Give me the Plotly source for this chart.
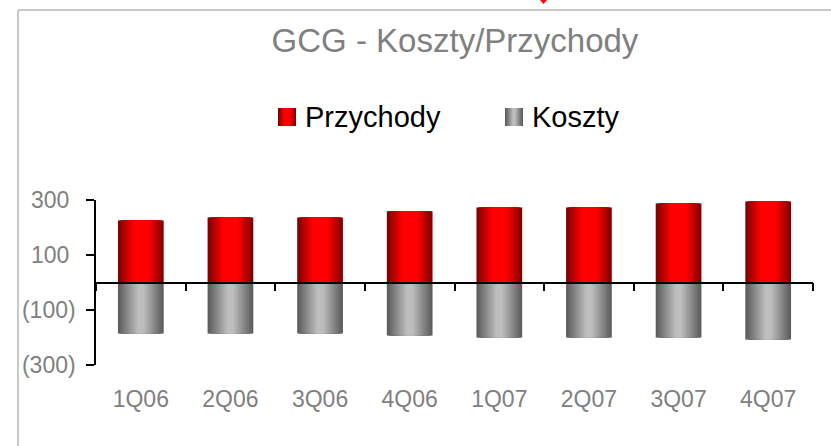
import plotly.graph_objects as go

# ---- data ----
quarters = ["1Q06", "2Q06", "3Q06", "4Q06", "1Q07", "2Q07", "3Q07", "4Q07"]
przychody = [225, 236, 236, 259, 273, 273, 287, 295]
koszty = [-185, -185, -185, -193, -200, -200, -200, -207]
y_tickvals = [300, 100, -100, -300]
y_ticktext = ["300\u00a0", "100\u00a0", "(100)", "(300)"]

W, H = 831, 446
L, R, T, B = 96, 18, 200, 81
PW, PH = W - L - R, H - T - B
FONT = "Arial, Liberation Sans, sans-serif"


def px_x(p):
    return (p - L) / PW


def px_y(p):
    return (H - B - p) / PH


def mix(c1, c2, a):
    return "rgb(%d,%d,%d)" % tuple(round(c1[i] + (c2[i] - c1[i]) * a) for i in range(3))


RED_EDGE, RED_MID = (128, 0, 0), (255, 0, 0)
GRAY_EDGE, GRAY_MID = (92, 92, 92), (190, 190, 190)


def red_profile(t):
    if t < 0.35:
        return 1.0
    return 1 - (t - 0.35) / 0.65


def gray_profile(t):
    if t < 0.15:
        return 1.0
    return 1 - (t - 0.15) / 0.85


fig = go.Figure()
BAR_W = 0.51
N = 16
for series, edge, mid, prof, xa in [
    (przychody, RED_EDGE, RED_MID, red_profile, "x"),
    (koszty, GRAY_EDGE, GRAY_MID, gray_profile, "x2"),
]:
    for i in range(N):
        t = 1 - i / N
        fig.add_trace(go.Bar(
            x=quarters, y=series, width=BAR_W * t, xaxis=xa, yaxis="y",
            marker=dict(color=mix(edge, mid, prof(t)), line=dict(width=0)),
            showlegend=False, hoverinfo="skip",
        ))

fig.update_layout(
    width=W, height=H,
    margin=dict(l=L, r=R, t=T, b=B),
    paper_bgcolor="white", plot_bgcolor="white",
    barmode="overlay",
    showlegend=False,
    font=dict(family=FONT, color="#808080", size=23),
    xaxis=dict(
        type="category", categoryorder="array", categoryarray=quarters,
        range=[-0.5, 7.5], showline=False, showgrid=False, zeroline=False,
        ticks="outside", ticklen=13, tickcolor="rgba(0,0,0,0)",
        tickfont=dict(size=23, color="#808080", family=FONT),
    ),
    xaxis2=dict(
        type="category", categoryorder="array", categoryarray=quarters,
        overlaying="x", anchor="free", position=0.5,
        range=[-0.5, 7.5], showline=True, linecolor="black", linewidth=1.5,
        ticks="outside", ticklen=8, tickcolor="black", tickwidth=1.5,
        tickson="boundaries",
        showticklabels=False, showgrid=False, zeroline=False,
    ),
    yaxis=dict(
        range=[-300, 300], tickvals=y_tickvals, ticktext=y_ticktext,
        showline=True, linecolor="black", linewidth=1.5,
        ticks="outside", ticklen=8, tickcolor="black", tickwidth=1.5,
        ticklabelstandoff=6,
        showgrid=False, zeroline=False,
        tickfont=dict(size=23, color="#808080", family=FONT),
    ),
    title=dict(
        text="GCG - Koszty/Przychody", x=455 / W, xanchor="center",
        y=1 - 40 / H, yanchor="middle", xref="container", yref="container",
        font=dict(size=33, color="#808080", family=FONT),
    ),
)

shapes = []
# frame (top + left edges)
shapes.append(dict(type="line", xref="paper", yref="paper",
                   x0=px_x(18), x1=px_x(W + 10), y0=px_y(10), y1=px_y(10),
                   line=dict(color="#C8C8C8", width=2)))
shapes.append(dict(type="line", xref="paper", yref="paper",
                   x0=px_x(18), x1=px_x(18), y0=px_y(10), y1=px_y(H + 10),
                   line=dict(color="#C8C8C8", width=2)))
# small red mark at top
shapes.append(dict(type="path", xref="paper", yref="paper",
                   path="M %f %f L %f %f L %f %f Z" % (px_x(540), px_y(0), px_x(547), px_y(0), px_x(543.5), px_y(4)),
                   fillcolor="red", line=dict(width=0)))


def legend_square(x0, y0, size, edge, mid, prof):
    n = 9
    out = []
    for k in range(n):
        t = 1 - k / n
        half = size / 2 * t
        cx = x0 + size / 2
        out.append(dict(type="rect", xref="paper", yref="paper",
                        x0=px_x(cx - half), x1=px_x(cx + half),
                        y0=px_y(y0 + size), y1=px_y(y0),
                        fillcolor=mix(edge, mid, prof(t)), line=dict(width=0)))
    return out


shapes += legend_square(278, 108, 18, RED_EDGE, RED_MID, red_profile)
shapes += legend_square(505, 108, 18, GRAY_EDGE, GRAY_MID, gray_profile)
fig.update_layout(shapes=shapes)

fig.add_annotation(text="Przychody", xref="paper", yref="paper", x=px_x(303), y=px_y(117),
                   xanchor="left", yanchor="middle", showarrow=False,
                   font=dict(size=29, color="black", family=FONT))
fig.add_annotation(text="Koszty", xref="paper", yref="paper", x=px_x(530), y=px_y(117),
                   xanchor="left", yanchor="middle", showarrow=False,
                   font=dict(size=29, color="black", family=FONT))

fig.write_html("out.html", config={"displayModeBar": False},
               post_script="document.body.style.margin='0';document.body.style.overflow='hidden';")
